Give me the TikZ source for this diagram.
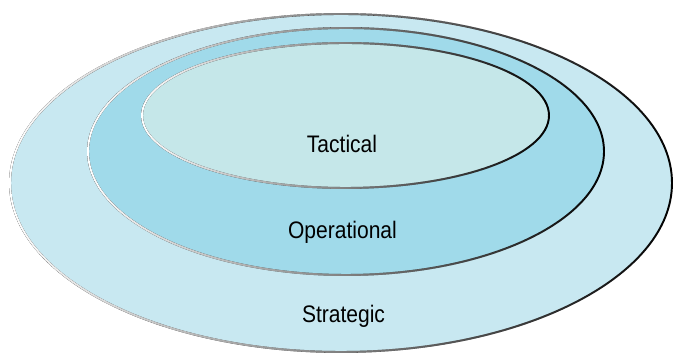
\documentclass[tikz,border=0pt]{standalone}
\usepackage{fontspec}
\setmainfont[FakeStretch=0.88]{Liberation Sans}
\usepackage{xcolor}
\usepackage{tikz}
\usetikzlibrary{fadings}
\definecolor{strategicblue}{HTML}{C8E8F1}
\definecolor{operationalblue}{HTML}{A0DAEA}
\definecolor{tacticalblue}{HTML}{C5E7E9}
\tikzset{
    rimdark/.style={draw=black, line width=1.1pt},
    rimlight/.style={draw=white, line width=1.1pt, path fading=east},
    levellabel/.style={font=\fontsize{13.6}{15}\selectfont, text=black, anchor=base}
}

\begin{document}
\begin{tikzpicture}
    \useasboundingbox (0,0) rectangle (13.5,7.08);

    % Strategic (outer)
    \fill[strategicblue] (6.82,3.42) ellipse (6.62 and 3.38);
    \draw[rimdark] (6.82,3.42) ellipse (6.62 and 3.38);
    \draw[rimlight] (6.82,3.42) ellipse (6.62 and 3.38);

    % Operational (middle)
    \fill[operationalblue] (6.92,4.05) ellipse (5.16 and 2.47);
    \draw[rimdark] (6.92,4.05) ellipse (5.16 and 2.47);
    \draw[rimlight] (6.92,4.05) ellipse (5.16 and 2.47);

    % Tactical (inner)
    \fill[tacticalblue] (6.91,4.77) ellipse (4.07 and 1.45);
    \draw[rimdark] (6.91,4.77) ellipse (4.07 and 1.45);
    \draw[rimlight] (6.91,4.77) ellipse (4.07 and 1.45);

    % Labels
    \node[levellabel] (tactical) at (6.84,4.03) {Tactical};
    \node[levellabel] (operational) at (6.85,2.30) {Operational};
    \node[levellabel] (strategic) at (6.87,0.62) {Strategic};
\end{tikzpicture}
\end{document}
